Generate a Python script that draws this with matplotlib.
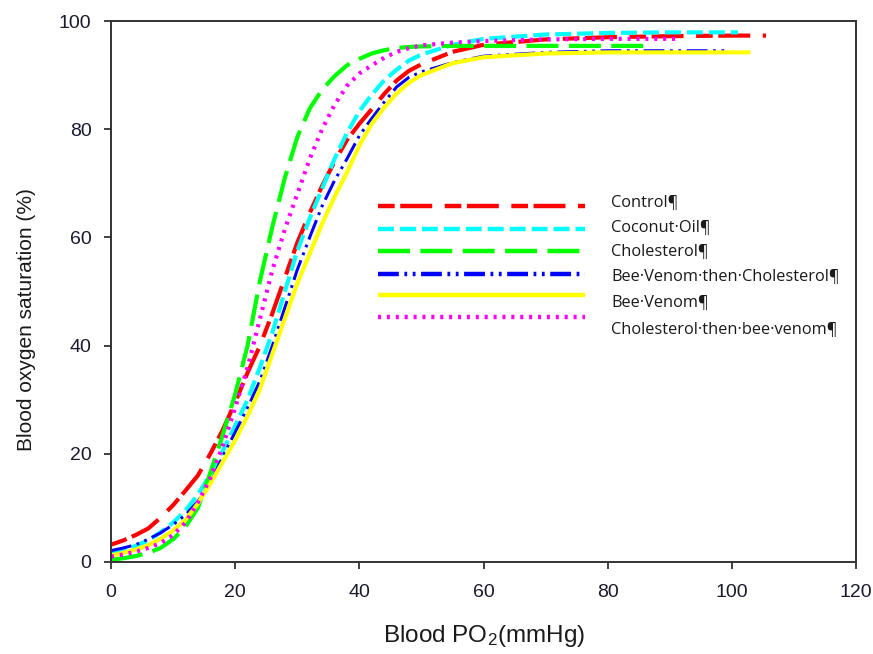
import matplotlib
matplotlib.use("Agg")
import matplotlib.pyplot as plt

plt.rcParams['font.family'] = ['Liberation Sans', 'DejaVu Sans']
plt.rcParams['mathtext.fontset'] = 'custom'
plt.rcParams['mathtext.rm'] = 'Liberation Sans'
plt.rcParams['mathtext.default'] = 'regular'
plt.rcParams['lines.scale_dashes'] = False

# ---------------- data ----------------
x_grid = [0, 2, 4, 6, 8, 10, 12, 14, 16, 18, 20, 22, 24, 26, 28, 30, 32, 34, 36,
          38, 40, 42, 44, 46, 48, 50, 55, 60, 70, 80, 90]

control_x = x_grid + [100, 105.5]
control_y = [3.2, 4.0, 5.0, 6.2, 8.2, 10.5, 13.2, 16.0, 20.0, 24.4, 29.5, 35.0, 40.0,
             46.0, 52.5, 59.0, 64.5, 69.5, 74.0, 78.0, 81.0, 83.7, 86.5, 89.0, 90.8,
             92.0, 94.3, 95.6, 96.6, 97.0, 97.2, 97.3, 97.3]

coconut_x = x_grid + [101]
coconut_y = [1.5, 2.2, 3.0, 4.0, 5.5, 7.3, 9.5, 12.5, 16.2, 20.5, 25.2, 30.0, 36.0,
             42.5, 50.0, 57.5, 63.5, 69.0, 74.5, 79.3, 83.3, 86.4, 89.0, 91.0, 92.7,
             93.8, 95.6, 96.7, 97.5, 97.8, 97.9, 97.9]

chol_x = x_grid[:-1] + [87]
chol_y = [0.4, 0.7, 1.1, 1.7, 2.6, 4.2, 6.5, 10.0, 16.5, 23.5, 31.0, 40.0, 52.0,
          62.0, 71.0, 78.5, 83.8, 87.3, 89.8, 91.8, 93.0, 94.0, 94.6, 95.0, 95.2,
          95.3, 95.4, 95.4, 95.4, 95.4, 95.4]

bvc_x = x_grid + [99.2]
bvc_y = [2.1, 2.6, 3.2, 4.2, 5.4, 6.9, 8.7, 11.2, 14.5, 19.5, 24.0, 28.5, 33.5,
         40.0, 47.0, 54.0, 60.0, 65.8, 70.5, 74.5, 78.8, 82.0, 85.0, 87.8, 89.6,
         90.6, 92.3, 93.5, 94.2, 94.5, 94.5, 94.5]

bv_x = x_grid + [100, 103]
bv_y = [1.2, 1.7, 2.3, 3.1, 4.3, 5.8, 7.8, 10.8, 14.5, 18.5, 22.5, 27.0, 32.0,
        38.5, 45.0, 51.5, 57.0, 62.5, 67.5, 72.0, 77.0, 81.0, 84.0, 86.6, 88.6,
        90.0, 92.2, 93.3, 94.0, 94.2, 94.2, 94.2, 94.2]

cbv_x = x_grid[:-1] + [91.7]
cbv_y = [1.0, 1.4, 1.9, 2.6, 3.5, 5.0, 7.3, 11.0, 15.5, 21.5, 28.5, 36.0, 45.0,
         54.0, 61.5, 68.0, 74.5, 80.0, 84.5, 88.0, 90.3, 91.8, 93.2, 94.3, 95.0,
         95.5, 96.0, 96.3, 96.6, 96.7, 96.7]

labels = ["Control¶", "Coconut·Oil¶", "Cholesterol¶", "Bee·Venom·then·Cholesterol¶",
          "Bee·Venom¶", "Cholesterol·then·bee·venom¶"]
x_ticks = [0, 20, 40, 60, 80, 100, 120]
y_ticks = [0, 20, 40, 60, 80, 100]

# ---------------- styles ----------------
styles = [
    dict(color='#ff0000', lw=3.0, dashes=(12, 4, 23, 9)),
    dict(color='#00ffff', lw=3.0, dashes=(11.5, 4.3)),
    dict(color='#00ff00', lw=3.0, dashes=(23, 7.5)),
    dict(color='#0000ff', lw=2.2, dashes=(15, 4, 2, 4, 2, 4)),
    dict(color='#ffff00', lw=3.0, dashes=()),
    dict(color='#ff00ff', lw=3.0, dashes=(2.2, 4.2)),
]
series = [(control_x, control_y), (coconut_x, coconut_y), (chol_x, chol_y),
          (bvc_x, bvc_y), (bv_x, bv_y), (cbv_x, cbv_y)]

fig = plt.figure(figsize=(8.73, 6.54), dpi=100)
AX_L, AX_R, AX_T, AX_B = 111, 856, 21, 562
ax = fig.add_axes([AX_L / 873, 1 - AX_B / 654, (AX_R - AX_L) / 873, (AX_B - AX_T) / 654])

for (xs, ys), st in zip(series, styles):
    ln, = ax.plot(xs, ys, color=st['color'], lw=st['lw'], solid_capstyle='butt',
                  dash_capstyle='butt')
    if st['dashes']:
        ln.set_dashes(st['dashes'])

ax.set_xlim(0, 120)
ax.set_ylim(0, 100)
ax.set_xticks(x_ticks)
ax.set_yticks(y_ticks)
ax.tick_params(direction='out', length=5, width=1.3, color='#333333',
               labelsize=14, labelcolor='#1a1a2e')
ax.tick_params(axis='y', pad=9)
ax.tick_params(axis='x', pad=11)
for s in ax.spines.values():
    s.set_color('#333333')
    s.set_linewidth(1.4)


def px_to_ax(xp, yp):
    return ((xp - AX_L) / (AX_R - AX_L), (AX_B - yp) / (AX_B - AX_T))


ax.set_xlabel("Blood PO$_2$(mmHg)", fontsize=17.5, color='#1a1a1a')
ax.set_ylabel("Blood oxygen saturation (%)", fontsize=15, color='#1a1a1a')
ax.xaxis.label.set_va('center')
ax.yaxis.label.set_va('center')
ax.xaxis.set_label_coords(*px_to_ax(484, 636))
ax.yaxis.set_label_coords(*px_to_ax(27, 320))

# manual legend (axes-fraction positions)
line_rows = [206, 229, 251, 274, 295, 317]
text_rows = [203, 228, 252, 277, 303, 330]
for st, ly, ty, lab in zip(styles, line_rows, text_rows, labels):
    x0, y0 = px_to_ax(378, ly)
    x1, _ = px_to_ax(585, ly)
    ln, = ax.plot([x0, x1], [y0, y0], transform=ax.transAxes, color=st['color'],
                  lw=3.2, solid_capstyle='butt', dash_capstyle='butt')
    if st['dashes']:
        ln.set_dashes(st['dashes'])
    tx, tyy = px_to_ax(611, ty)
    ax.text(tx, tyy, lab, transform=ax.transAxes, fontsize=11.8, va='center', ha='left',
            color='#1a1a1a', family=['Open Sans', 'DejaVu Sans'])

fig.savefig("out.png", dpi=100)
